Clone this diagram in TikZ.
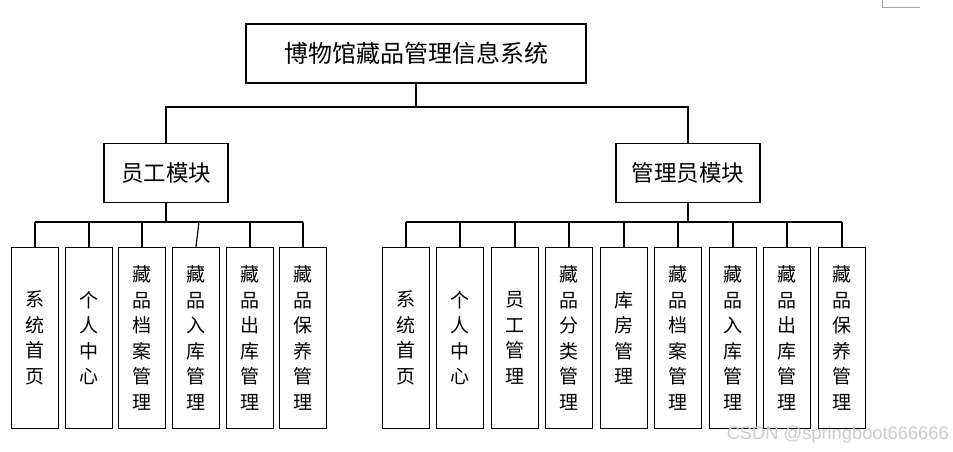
\documentclass[tikz,border=0pt]{standalone}
\usepackage{fontspec}
\newfontfamily\cjk{Noto Sans CJK SC}
\newfontfamily\wmfont{Liberation Sans}
\begin{document}
\begin{tikzpicture}[x=1pt,y=-1pt,
  box/.style={draw, line width=1.6pt, inner sep=0pt, font=\cjk},
  titlebox/.style={box, minimum width=340pt, minimum height=59pt, font=\cjk\fontsize{24}{28}\selectfont},
  modbox/.style={box, minimum height=59pt, font=\cjk\fontsize{22.5}{26}\selectfont},
  leaf/.style={box, minimum width=47pt, minimum height=181pt, align=center, font=\cjk\fontsize{19}{25.5}\selectfont},
  conn/.style={line width=1.2pt}]
\useasboundingbox (0,0) rectangle (953,451);
\fill[white] (0,0) rectangle (953,451);

\node[titlebox] (root) at (416,53.5) {博物馆藏品管理信息系统};
\node[modbox, minimum width=124pt] (emp) at (166,173) {员工模块};
\node[modbox, minimum width=144pt] (mgr) at (688,173) {管理员模块};

% staff leaves
\node[leaf] (l1) at (35,338) {系\\统\\首\\页};
\node[leaf] (l2) at (89,338) {个\\人\\中\\心};
\node[leaf] (l3) at (142,338) {藏\\品\\档\\案\\管\\理};
\node[leaf] (l4) at (196,338) {藏\\品\\入\\库\\管\\理};
\node[leaf] (l5) at (250,338) {藏\\品\\出\\库\\管\\理};
\node[leaf] (l6) at (303,338) {藏\\品\\保\\养\\管\\理};

% admin leaves
\node[leaf] (r1) at (406,338) {系\\统\\首\\页};
\node[leaf] (r2) at (460,338) {个\\人\\中\\心};
\node[leaf] (r3) at (515,338) {员\\工\\管\\理};
\node[leaf] (r4) at (569,338) {藏\\品\\分\\类\\管\\理};
\node[leaf] (r5) at (624,338) {库\\房\\管\\理};
\node[leaf] (r6) at (678,338) {藏\\品\\档\\案\\管\\理};
\node[leaf] (r7) at (733,338) {藏\\品\\入\\库\\管\\理};
\node[leaf] (r8) at (787,338) {藏\\品\\出\\库\\管\\理};
\node[leaf] (r9) at (842,338) {藏\\品\\保\\养\\管\\理};

% top level connectors
\draw[conn] (root.south) -- (root.south |- 0,107);
\draw[conn] (emp.north) -- (emp.north |- 0,107) -- (mgr.north |- 0,107) -- (mgr.north);

% staff connectors
\draw[conn] (emp.south) -- (emp.south |- 0,222);
\draw[conn] (l1.north |- 0,222) -- (l6.north |- 0,222);
\foreach \n in {l1,l2,l3,l5,l6} \draw[conn] (\n.north) -- (\n.north |- 0,222);
\draw[conn] (l4.north) -- ([xshift=3pt]l4.north |- 0,222);

% admin connectors
\draw[conn] (mgr.south) -- (mgr.south |- 0,222);
\draw[conn] (r1.north |- 0,222) -- (r9.north |- 0,222);
\foreach \n in {r1,r2,r3,r4,r5,r6,r7,r8,r9} \draw[conn] (\n.north) -- (\n.north |- 0,222);

% corner fragment
\draw[gray!70, line width=0.8pt] (882,0) -- (882,7) -- (920,7);

% watermark
\node[anchor=base east, inner sep=0pt, text=gray!40, font=\wmfont\fontsize{18.3}{21}\selectfont] (wm) at (949,439) {CSDN @springboot666666};
\end{tikzpicture}
\end{document}
